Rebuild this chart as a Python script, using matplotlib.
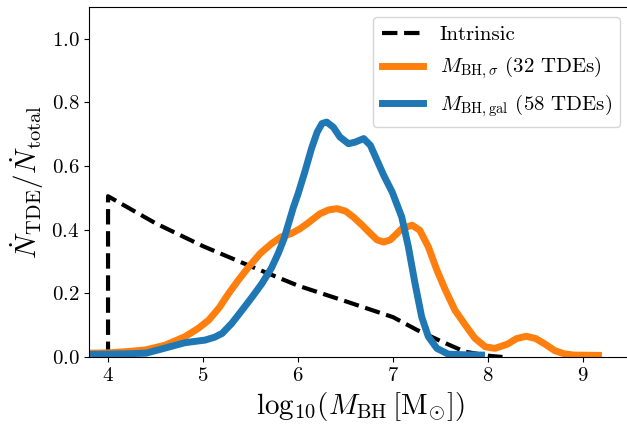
import matplotlib
matplotlib.use("Agg")
import matplotlib.pyplot as plt

plt.rcParams["font.family"] = "serif"
plt.rcParams["font.serif"] = ["cmr10"]
plt.rcParams["mathtext.fontset"] = "cm"
plt.rcParams["axes.unicode_minus"] = False
plt.rcParams["axes.formatter.use_mathtext"] = True

# intrinsic rate (normalised)
x_int = [4.0, 4.0, 4.5, 5.0, 5.5, 6.0, 6.5, 7.0, 7.25, 7.5, 7.75, 8.0, 8.15]
y_int = [0.0, 0.505, 0.42, 0.348, 0.285, 0.224, 0.175, 0.125, 0.085, 0.05, 0.017, 0.004, 0.0]

# M_BH,sigma sample (32 TDEs)
x_sig = [3.8, 4.0, 4.2, 4.39, 4.6, 4.81, 4.95, 5.06, 5.17, 5.27, 5.38, 5.48, 5.6,
         5.72, 5.82, 5.93, 6.02, 6.1, 6.23, 6.32, 6.41, 6.5, 6.58, 6.67, 6.76,
         6.83, 6.9, 6.97, 7.04, 7.09, 7.2, 7.28, 7.37, 7.46, 7.55, 7.65, 7.76,
         7.86, 7.97, 8.07, 8.2, 8.3, 8.4, 8.5, 8.6, 8.7, 8.8, 8.9, 9.16]
y_sig = [0.012, 0.013, 0.017, 0.022, 0.037, 0.064, 0.09, 0.116, 0.155, 0.2, 0.245,
         0.283, 0.325, 0.356, 0.377, 0.388, 0.403, 0.42, 0.45, 0.462, 0.466, 0.458,
         0.44, 0.415, 0.388, 0.368, 0.361, 0.368, 0.388, 0.403, 0.414, 0.398,
         0.346, 0.273, 0.21, 0.147, 0.1, 0.059, 0.032, 0.027, 0.04, 0.058, 0.065,
         0.058, 0.04, 0.02, 0.01, 0.006, 0.005]

# M_BH,gal sample (58 TDEs)
x_gal = [3.8, 4.2, 4.4, 4.6, 4.81, 5.02, 5.12, 5.2, 5.3, 5.41, 5.52, 5.62, 5.72,
         5.79, 5.85, 5.9, 5.95, 6.0, 6.07, 6.14, 6.2, 6.25, 6.3, 6.37, 6.44, 6.53,
         6.6, 6.69, 6.76, 6.83, 6.9, 6.99, 7.09, 7.16, 7.23, 7.3, 7.37, 7.46,
         7.58, 7.75, 7.93]
y_gal = [0.008, 0.01, 0.012, 0.028, 0.045, 0.053, 0.062, 0.074, 0.105, 0.147, 0.19,
         0.231, 0.28, 0.325, 0.37, 0.42, 0.47, 0.513, 0.581, 0.654, 0.706, 0.733,
         0.738, 0.722, 0.691, 0.67, 0.675, 0.686, 0.665, 0.618, 0.571, 0.518,
         0.44, 0.346, 0.231, 0.126, 0.064, 0.027, 0.009, 0.007, 0.006]

fig = plt.figure(figsize=(6.27, 4.26), dpi=100)
ax = fig.add_axes([0.142, 0.162, 0.864, 0.822])

ax.plot(x_int, y_int, "k--", lw=3, label="Intrinsic")
ax.plot(x_sig, y_sig, color="#ff7f0e", lw=5, solid_joinstyle="round",
        label=r"$M_{\rm BH,\sigma}$ (32 TDEs)")
ax.plot(x_gal, y_gal, color="#1f77b4", lw=5, solid_joinstyle="round",
        label=r"$M_{\rm BH,gal}$ (58 TDEs)")

ax.set_xlim(3.8, 9.5)
ax.set_ylim(0, 1.1)
ax.set_xticks([4, 5, 6, 7, 8, 9])
ax.set_yticks([0.0, 0.2, 0.4, 0.6, 0.8, 1.0])
ax.tick_params(labelsize=15)
ax.set_xlabel(r"$\mathrm{log}_{10}(M_{\rm BH}\,[{\rm M}_{\odot}])$", fontsize=21)
ax.set_ylabel(r"$\dot{N}_{\rm TDE}/\dot{N}_{\rm total}$", fontsize=21)
ax.legend(loc="upper right", fontsize=15)

fig.savefig("out.png", dpi=100)
